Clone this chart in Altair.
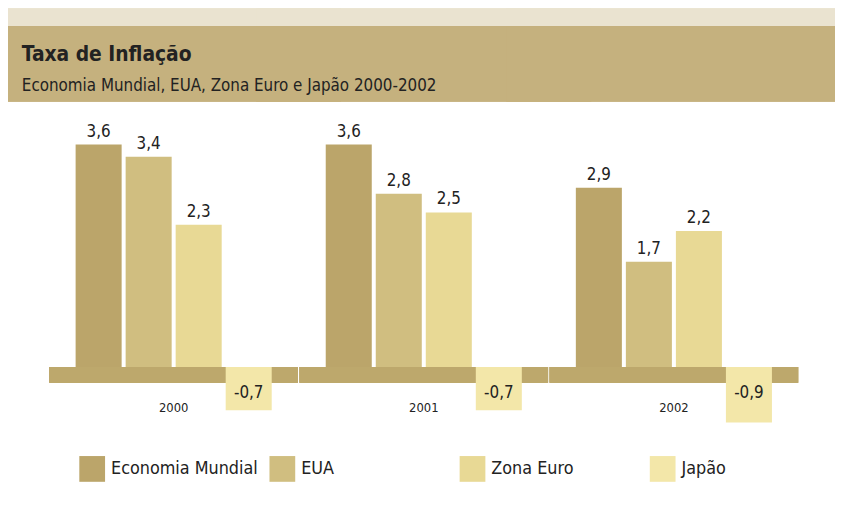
import altair as alt
import pandas as pd

# ---- data ----
years = ["2000", "2001", "2002"]
series = ["Economia Mundial", "EUA", "Zona Euro", "Japão"]
economia_mundial = [3.6, 3.6, 2.9]
eua = [3.4, 2.8, 1.7]
zona_euro = [2.3, 2.5, 2.2]
japao = [-0.7, -0.7, -0.9]

title_text = "Taxa de Inflação"
subtitle_text = "Economia Mundial, EUA, Zona Euro e Japão 2000-2002"

# ---- styles ----
colors = ["#BBA56A", "#D0BE80", "#E8D995", "#F3E7A9"]
FONT = "DejaVu Sans Condensed, Liberation Sans Narrow, DejaVu Sans, sans-serif"
TXT = "#222222"
HEADER = "#C5B17E"
STRIP = "#EAE3D0"
BAND = "#BDA86C"

values_by_series = [economia_mundial, eua, zona_euro, japao]
rows = []
for s, vals in zip(series, values_by_series):
    for y, v in zip(years, vals):
        rows.append({"year": y, "series": s, "value": v,
                     "label": f"{v:.1f}".replace(".", ","), "zero": 0.0})
df = pd.DataFrame(rows)
df_pos = df[df["value"] > 0].reset_index(drop=True)
df_neg = df[df["value"] < 0].reset_index(drop=True)

x_enc = alt.X("year:N",
              scale=alt.Scale(domain=years, range=[0, 757.6], paddingInner=0.2, paddingOuter=0.1),
              axis=alt.Axis(title=None, domain=False, ticks=False, grid=False, labelAngle=0,
                            labelFont=FONT, labelFontSize=13, labelColor=TXT, labelPadding=4))
xo_enc = alt.XOffset("series:N",
                     scale=alt.Scale(domain=series, paddingInner=0.08, paddingOuter=0.04))
y_scale = alt.Scale(domain=[-0.5, 4], nice=False, zero=False)
y_enc = alt.Y("value:Q", scale=y_scale, axis=None)
y_zero = alt.Y("zero:Q", scale=y_scale, axis=None)

# header strip, header band and the zero band, drawn as wide ticks on the zero line
strip = alt.Chart(df).mark_tick(color=STRIP, size=338, thickness=18, yOffset=-353,
                                opacity=1).encode(x=x_enc, y=y_zero)
header = alt.Chart(df).mark_tick(color=HEADER, size=338, thickness=76, yOffset=-306,
                                 opacity=1).encode(x=x_enc, y=y_zero)
baseline = alt.Chart(df).mark_tick(color=BAND, size=251, thickness=16, yOffset=8,
                                   opacity=1).encode(x=x_enc, y=y_zero)

bars = alt.Chart(df).mark_bar().encode(
    x=x_enc, xOffset=xo_enc, y=y_enc,
    color=alt.Color("series:N",
                    scale=alt.Scale(domain=series, range=colors),
                    legend=alt.Legend(title=None, orient="none", legendX=31, legendY=339.6,
                                      direction="horizontal", columns=4, gridAlign="all",
                                      symbolType="square", symbolSize=676,
                                      symbolStrokeWidth=0, symbolOpacity=1,
                                      labelFont=FONT, labelFontSize=18, labelColor=TXT,
                                      labelOffset=6, padding=0, labelLimit=400,
                                      columnPadding=11))
)

pos_labels = alt.Chart(df_pos).mark_text(
    font=FONT, fontSize=17, color=TXT, dy=-8, baseline="alphabetic").encode(
    x=x_enc, xOffset=xo_enc, y=y_enc, text="label:N")
neg_labels = alt.Chart(df_neg).mark_text(
    font=FONT, fontSize=17, color=TXT, dy=31, baseline="alphabetic").encode(
    x=x_enc, xOffset=xo_enc, y=y_zero, text="label:N")

chart = alt.layer(
    strip, header, baseline, bars, pos_labels, neg_labels
).properties(
    width=750, height=280.8,
    padding={"left": 41, "top": 110.4, "right": 44, "bottom": 101.8},
    autosize=alt.AutoSizeParams(type="none"),
    background="white",
    title=alt.Title(title_text, subtitle=subtitle_text, anchor="start", frame="group",
                    dx=-27, offset=-86, font=FONT, fontSize=21, fontWeight="bold", color=TXT,
                    subtitleFont=FONT, subtitleFontSize=17, subtitleColor=TXT,
                    subtitlePadding=13),
).configure_view(stroke=None)

chart.save("out.html", embed_options={"renderer": "svg", "actions": False})
